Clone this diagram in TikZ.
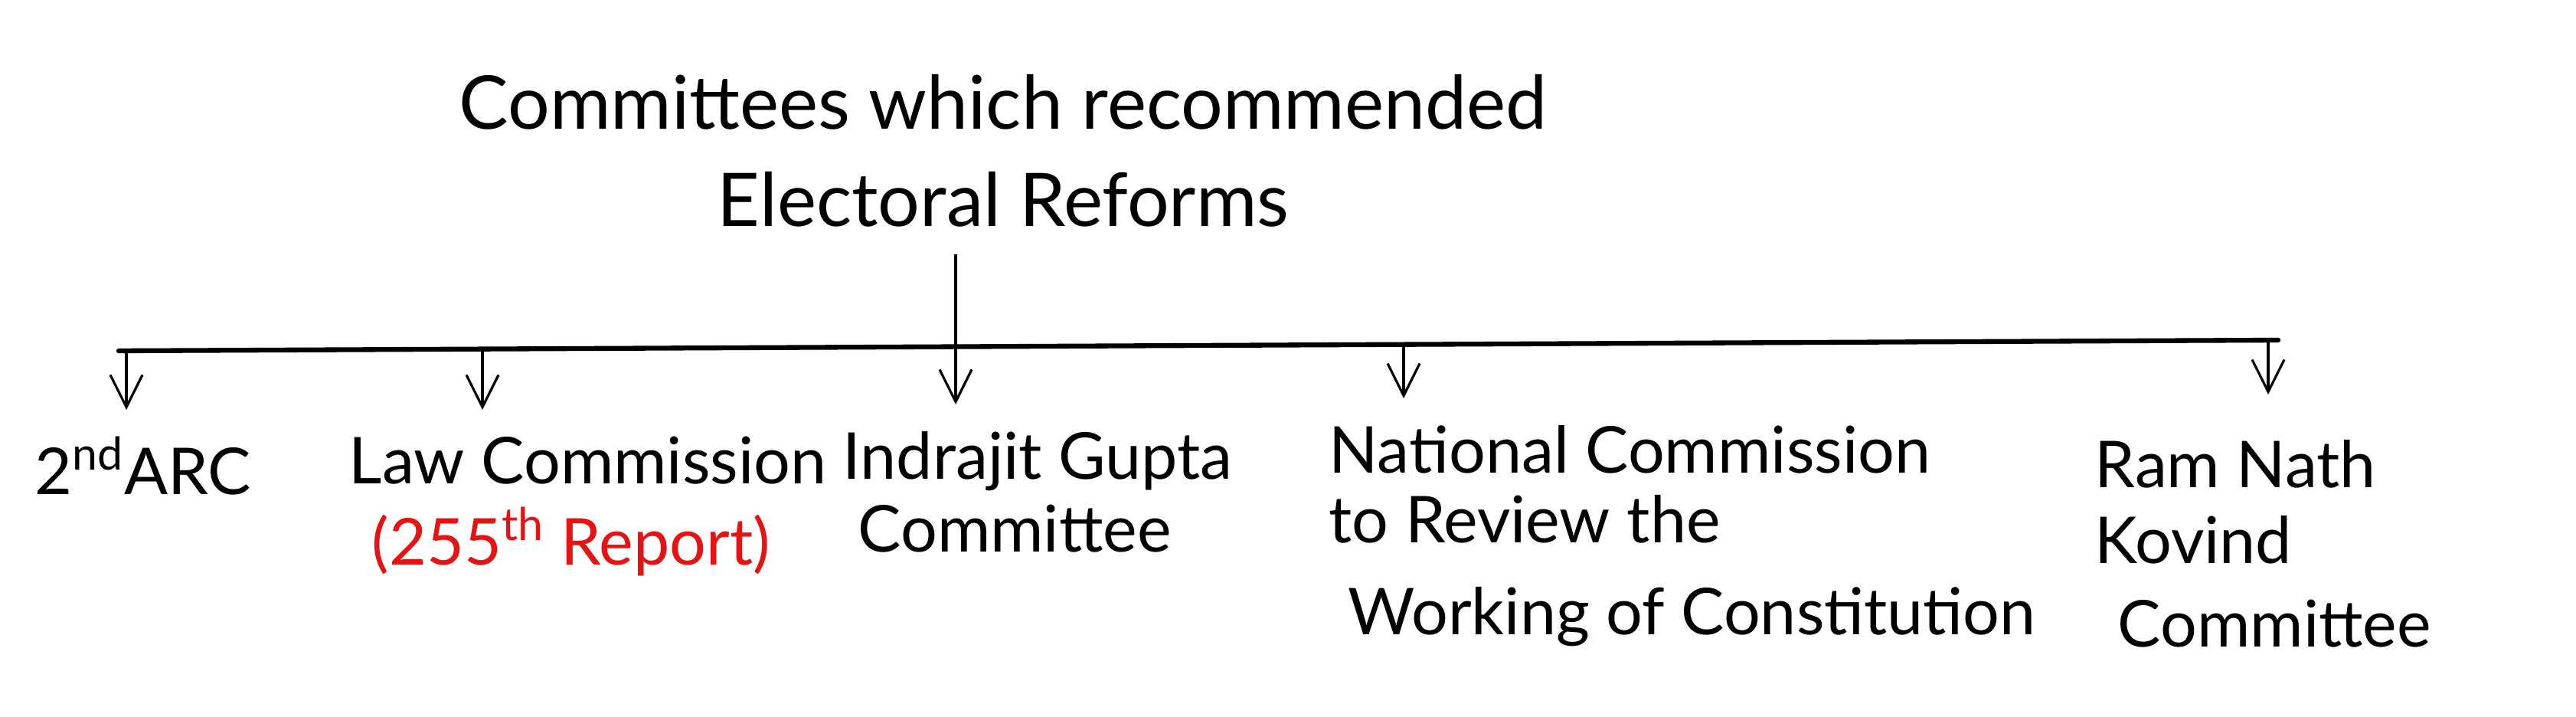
\documentclass[tikz,border=0pt]{standalone}
\usepackage{fontspec}
\setmainfont{Lato}
\usetikzlibrary{arrows.meta}
\definecolor{handred}{RGB}{228,20,20}
\tikzset{
  titletext/.style={font=\fontsize{27.5}{36}\selectfont, align=center, inner sep=0pt},
  labeltext/.style={font=\fontsize{24}{30}\selectfont, align=left, inner xsep=0pt, inner ysep=0pt, outer ysep=10pt, anchor=north west},
  barline/.style={line width=1.8pt, line cap=round},
  stemline/.style={line width=0.9pt},
  downarrow/.style={line width=0.9pt, -{Straight Barb[length=0.42cm,width=0.42cm,line width=0.9pt]}}
}
\begin{document}
\begin{tikzpicture}
\useasboundingbox (0,0) rectangle (33.64,-9.36);
% title
\node[titletext] (title) at (13.1,-1.97) {Committees which recommended\\Electoral Reforms};
% bar ends and branch points
\coordinate (bl) at (1.55,-4.58);
\coordinate (br) at (29.75,-4.44);
\coordinate (b1) at (1.65,-4.58);
\coordinate (b2) at (6.30,-4.556);
\coordinate (b3) at (12.48,-4.526);
\coordinate (b4) at (18.33,-4.497);
\coordinate (b5) at (29.62,-4.441);
% labels
\node[labeltext] (l1) at (0.45,-5.35) {2\textsuperscript{nd}ARC};
\node[labeltext] (l2) at (4.55,-5.35) {Law Commission\\\hspace*{0.3cm}\textcolor{handred}{(255\textsuperscript{th} Report)}};
\node[labeltext] (l3) at (11.00,-5.28) {Indrajit Gupta\\[-3pt]\hspace*{0.2cm}Committee};
\node[labeltext] (l4) at (17.35,-5.20) {National Commission\\[-4pt]to Review the\\[4pt]\hspace*{0.25cm}Working of Constitution};
\node[labeltext, outer ysep=17pt] (l5) at (27.35,-5.15) {Ram Nath\\[-2pt]Kovind\\[1pt]\hspace*{0.3cm}Committee};
% connectors
\draw[barline] (bl) -- (br);
\draw[stemline] ([yshift=-0.35cm]title.south -| b3) -- (b3);
\draw[downarrow] (b1) -- (b1 |- l1.north);
\draw[downarrow] (b2) -- (b2 |- l2.north);
\draw[downarrow] (b3) -- (b3 |- l3.north);
\draw[downarrow] (b4) -- (b4 |- l4.north);
\draw[downarrow] (b5) -- (b5 |- l5.north);
\end{tikzpicture}
\end{document}
